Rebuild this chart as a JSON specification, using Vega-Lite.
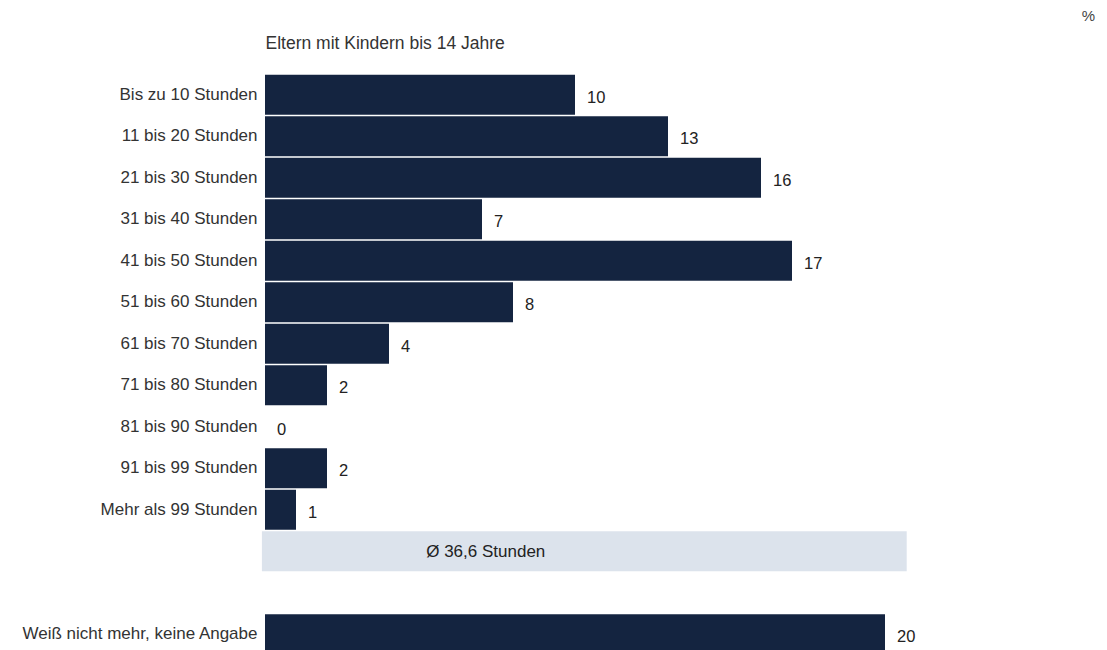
{
  "$schema": "https://vega.github.io/schema/vega-lite/v6.json",
  "autosize": {"type": "none"},
  "padding": {"left": 265, "top": 74, "right": 5, "bottom": 0},
  "width": 837,
  "height": 581,
  "background": "white",
  "title": {
    "text": "%",
    "anchor": "end",
    "frame": "group",
    "orient": "top",
    "fontSize": 15,
    "fontWeight": "normal",
    "font": "Liberation Sans",
    "color": "#444444",
    "offset": 10,
    "dx": -7
  },
  "datasets": {
    "bars": [
      {"cat": "Bis zu 10 Stunden", "value": 10},
      {"cat": "11 bis 20 Stunden", "value": 13},
      {"cat": "21 bis 30 Stunden", "value": 16},
      {"cat": "31 bis 40 Stunden", "value": 7},
      {"cat": "41 bis 50 Stunden", "value": 17},
      {"cat": "51 bis 60 Stunden", "value": 8},
      {"cat": "61 bis 70 Stunden", "value": 4},
      {"cat": "71 bis 80 Stunden", "value": 2},
      {"cat": "81 bis 90 Stunden", "value": 0},
      {"cat": "91 bis 99 Stunden", "value": 2},
      {"cat": "Mehr als 99 Stunden", "value": 1},
      {"cat": "Weiß nicht mehr, keine Angabe", "value": 20}
    ],
    "mean": [
      {"cat": "mean", "start": -0.1, "end": 20.7, "labelpos": 5.2, "label": "Ø 36,6 Stunden"}
    ]
  },
  "encoding": {
    "y": {
      "field": "cat",
      "type": "nominal",
      "sort": null,
      "scale": {
        "domain": ["Bis zu 10 Stunden", "11 bis 20 Stunden", "21 bis 30 Stunden", "31 bis 40 Stunden", "41 bis 50 Stunden", "51 bis 60 Stunden", "61 bis 70 Stunden", "71 bis 80 Stunden", "81 bis 90 Stunden", "91 bis 99 Stunden", "Mehr als 99 Stunden", "mean", "gap", "Weiß nicht mehr, keine Angabe"],
        "paddingInner": 0.04,
        "paddingOuter": 0.02
      },
      "axis": {
        "title": null,
        "ticks": false,
        "domain": false,
        "grid": false,
        "labelPadding": 8,
        "labelFont": "Liberation Sans",
        "labelFontSize": 17,
        "labelColor": "#333333",
        "labelLimit": 400,
        "labelExpr": "datum.value == 'mean' || datum.value == 'gap' ? '' : datum.value"
      }
    }
  },
  "layer": [
    {
      "data": {"name": "mean"},
      "mark": {"type": "bar", "color": "#dce3ec"},
      "encoding": {
        "x": {
          "field": "start",
          "type": "quantitative",
          "scale": {"domain": [0, 27], "nice": false, "zero": false},
          "axis": {
            "orient": "top",
            "title": "Eltern mit Kindern bis 14 Jahre",
            "titleX": 0,
            "titleY": -31,
            "titleAlign": "left",
            "titleAnchor": "start",
            "titleBaseline": "middle",
            "titleFont": "Liberation Sans",
            "titleFontSize": 17.5,
            "titleFontWeight": "normal",
            "titleColor": "#333333",
            "labels": false,
            "ticks": false,
            "domain": false,
            "grid": false
          }
        },
        "x2": {"field": "end"}
      }
    },
    {
      "data": {"name": "mean"},
      "mark": {"type": "text", "align": "left", "baseline": "middle", "font": "Liberation Sans", "fontSize": 17, "color": "#222222", "dy": 1},
      "encoding": {
        "x": {"field": "labelpos", "type": "quantitative"},
        "text": {"field": "label"}
      }
    },
    {
      "data": {"name": "bars"},
      "mark": {"type": "bar", "color": "#142440"},
      "encoding": {
        "x": {"field": "value", "type": "quantitative"}
      }
    },
    {
      "data": {"name": "bars"},
      "mark": {"type": "text", "align": "left", "baseline": "middle", "dx": 12, "dy": 3, "font": "Liberation Sans", "fontSize": 16.5, "color": "#222222"},
      "encoding": {
        "x": {"field": "value", "type": "quantitative"},
        "text": {"field": "value"}
      }
    }
  ],
  "config": {
    "view": {"stroke": null}
  }
}
